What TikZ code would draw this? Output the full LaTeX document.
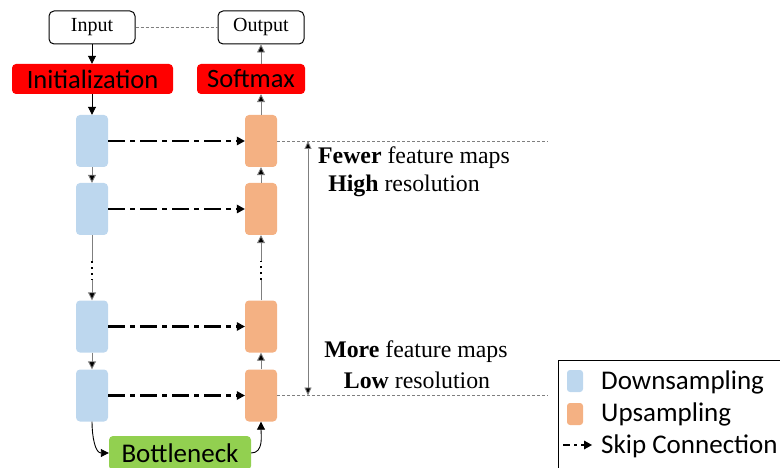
\documentclass[tikz,border=0pt]{standalone}
\usepackage{fontspec}
\setmainfont{Liberation Serif}
\newfontfamily\calibri{Carlito}
\usetikzlibrary{arrows.meta,positioning}
\definecolor{downblue}{HTML}{BDD7EE}
\definecolor{uporange}{HTML}{F4B183}
\definecolor{bngreen}{HTML}{92D050}
\definecolor{linegray}{HTML}{7F7F7F}
\tikzset{
  iobox/.style={draw=black, line width=1pt, rounded corners=5pt, minimum width=86pt, minimum height=33pt, inner sep=0pt, font=\fontsize{20}{20}\selectfont},
  redbox/.style={fill=red, rounded corners=4pt, inner sep=0pt, minimum height=30pt, font=\calibri\fontsize{26.5}{26.5}\selectfont},
  downblock/.style={fill=downblue, rounded corners=4pt, minimum width=32pt, minimum height=52pt, inner sep=0pt},
  upblock/.style={fill=uporange, rounded corners=4pt, minimum width=32pt, minimum height=52pt, inner sep=0pt},
  flow/.style={draw=linegray, line width=0.9pt, -{Triangle[length=8pt,width=8pt,fill=black]}},
  flowblack/.style={draw=black, line width=0.9pt, -{Triangle[length=8pt,width=8pt]}},
  skip/.style={draw=black, line width=2.6pt, dash pattern=on 17pt off 5pt on 5pt off 5pt, -{Triangle[length=8pt,width=9pt,line width=0pt]}},
  guide/.style={draw=linegray, line width=0.8pt, dash pattern=on 3pt off 2pt},
  note/.style={font=\fontsize{23.8}{23.8}\selectfont, align=center},
  legendtext/.style={anchor=west, inner sep=0pt, font=\calibri\fontsize{27}{27}\selectfont},
}
\begin{document}
\begin{tikzpicture}[x=1pt,y=-1pt]
\useasboundingbox (0,0) rectangle (780,468);
\clip (0,0) rectangle (780,468);

% input / output
\node[iobox] (in) at (92,27.5) {Input};
\node[iobox] (out) at (261,27.5) {Output};
\draw[guide] (in.east) -- (out.west);

% initialization / softmax
\node[redbox, minimum width=161pt] (init) at (92.5,79) {Initialization};
\node[redbox, minimum width=108pt] (soft) at (251,79) {Softmax};

% encoder blocks
\node[downblock] (d1) at (92,141) {};
\node[downblock] (d2) at (92,209) {};
\node[downblock] (d3) at (92,326.5) {};
\node[downblock] (d4) at (92,395.5) {};

% decoder blocks
\node[upblock] (u1) at (261,141) {};
\node[upblock] (u2) at (261,209) {};
\node[upblock] (u3) at (261,326.5) {};
\node[upblock] (u4) at (261,395.5) {};

% bottleneck
\node[fill=bngreen, rounded corners=4pt, minimum width=142pt, minimum height=34pt, inner sep=0pt,
      font=\calibri\fontsize{27}{27}\selectfont] (bn) at (180,453) {Bottleneck};

% vertical flow
\draw[flowblack] (in.south) -- (init.north -| in.south);
\draw[flowblack] (init.south -| d1.north) -- (d1.north);
\draw[flow] (d1.south) -- (d2.north);
\coordinate (dgapA) at (92,261);
\coordinate (dgapB) at (92,280);
\draw[linegray, line width=0.9pt] (d2.south) -- (dgapA);
\draw[black, line width=2.2pt, dash pattern=on 2.2pt off 3.8pt] (dgapA) -- (dgapB);
\draw[flow] (dgapB) -- (d3.north);
\draw[flow] (d3.south) -- (d4.north);

\draw[flow] (u4.north) -- (u3.south);
\coordinate (ugapA) at (261,280);
\coordinate (ugapB) at (261,261);
\draw[linegray, line width=0.9pt] (u3.north) -- (ugapA);
\draw[black, line width=2.2pt, dash pattern=on 2.2pt off 3.8pt] (ugapA) -- (ugapB);
\draw[flow] (ugapB) -- (u2.south);
\draw[flow] (u2.north) -- (u1.south);
\draw[flow] (u1.north) -- (soft.south -| u1.north);
\draw[flow] (soft.north -| out.south) -- (out.south);

\draw[flowblack] (d4.south) to[out=-90,in=180] (bn.west);
\draw[flowblack] (bn.east) to[out=0,in=-90] (u4.south);

% skip connections
\draw[skip] (d1.east) -- (u1.west);
\draw[skip] (d2.east) -- (u2.west);
\draw[skip] (d3.east) -- (u3.west);
\draw[skip] (d4.east) -- (u4.west);

% resolution scale
\coordinate (topend) at (548,141);
\coordinate (botend) at (548,395.5);
\draw[guide] (u1.east) -- (topend);
\draw[guide] (u4.east) -- (botend);
\coordinate (scaleTop) at (308,141);
\coordinate (scaleBot) at (308,395.5);
\draw[linegray, line width=0.9pt, {Triangle[length=8pt,width=7pt,fill=black]}-{Triangle[length=8pt,width=7pt,fill=black]}] (scaleTop) -- (scaleBot);
\node[note] (hi1) at (414,158) {\textbf{Fewer} feature maps};
\node[note] (hi2) at (404,186) {\textbf{High} resolution};
\node[note] (lo1) at (416,352) {\textbf{More} feature maps};
\node[note] (lo2) at (417,380) {\textbf{Low} resolution};

% legend
\draw[black, line width=1pt] (558,360) rectangle (800,500);
\node[fill=downblue, rounded corners=3pt, minimum width=16pt, minimum height=22pt, inner sep=0pt] (lg1) at (575,381) {};
\node[fill=uporange, rounded corners=3pt, minimum width=16pt, minimum height=22pt, inner sep=0pt] (lg2) at (575,414) {};
\coordinate (lg3a) at (563,445);
\coordinate (lg3b) at (592,445);
\draw[black, line width=2.6pt, dash pattern=on 7pt off 4pt on 3pt off 4pt, -{Triangle[length=8pt,width=9pt,line width=0pt]}] (lg3a) -- (lg3b);
\node[legendtext] (lt1) at (601,382) {Downsampling};
\node[legendtext] (lt2) at (601,414) {Upsampling};
\node[legendtext] (lt3) at (601,446) {Skip Connection};
\end{tikzpicture}
\end{document}
